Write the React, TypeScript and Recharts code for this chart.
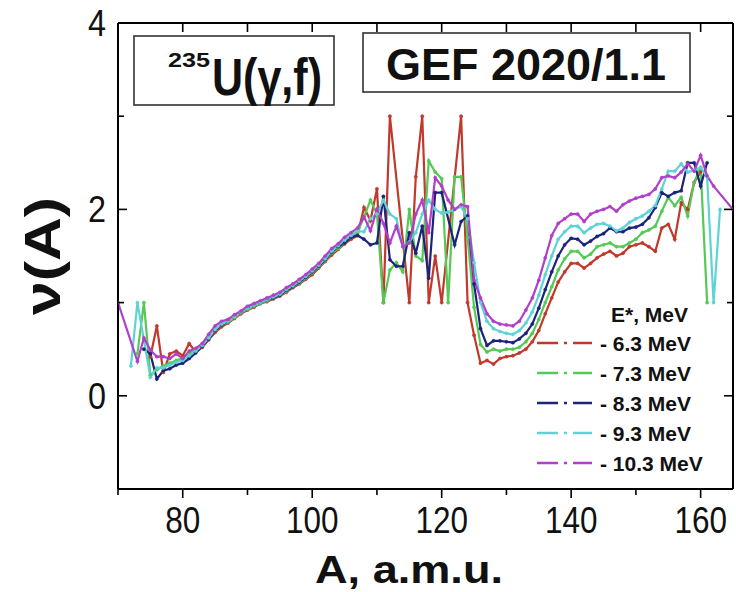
import React from 'react';
import { LineChart, Line, XAxis, YAxis } from 'recharts';

// Mass number A (a.m.u.)
const massNumbers = [
  70, 71, 72, 73, 74, 75, 76, 77, 78, 79,
  80, 81, 82, 83, 84, 85, 86, 87, 88, 89,
  90, 91, 92, 93, 94, 95, 96, 97, 98, 99,
  100, 101, 102, 103, 104, 105, 106, 107, 108, 109,
  110, 111, 112, 113, 114, 115, 116, 117, 118, 119,
  120, 121, 122, 123, 124, 125, 126, 127, 128, 129,
  130, 131, 132, 133, 134, 135, 136, 137, 138, 139,
  140, 141, 142, 143, 144, 145, 146, 147, 148, 149,
  150, 151, 152, 153, 154, 155, 156, 157, 158, 159,
  160, 161, 162, 163, 164, 165,
];

// nu(A) for E* = 6.3 MeV
const nu63 = [
  null, null, null, null, null, 0.42, 0.75, 0.25, 0.45, 0.48,
  0.43, 0.56, 0.47, 0.52, 0.6, 0.68, 0.74, 0.78, 0.83, 0.88,
  0.92, 0.95, 0.99, 1.01, 1.04, 1.07, 1.11, 1.16, 1.2, 1.25,
  1.3, 1.37, 1.44, 1.51, 1.57, 1.63, 1.68, 1.72, 2.02, 1.88,
  2.22, 1.0, 3.0, null, null, 1.0, 2.35, 3.0, 1.0, 1.5,
  1.0, null, null, 3.0, 1.0, 0.65, 0.35, 0.38, 0.34, 0.4,
  0.42, 0.43, 0.46, 0.5, 0.58, 0.7, 0.88, 1.05, 1.22, 1.33,
  1.42, 1.42, 1.37, 1.42, 1.48, 1.52, 1.55, 1.5, 1.53, 1.6,
  1.62, 1.64, 1.6, 1.55, 1.8, 1.84, 1.68, 2.07, 2.0, 2.29,
  2.4, null, null, null, null, null,
];

// nu(A) for E* = 7.3 MeV
const nu73 = [
  null, null, null, 0.45, 1.0, 0.22, 0.28, 0.32, 0.35, 0.38,
  0.4, 0.45, 0.5, 0.54, 0.62, 0.7, 0.76, 0.79, 0.84, 0.89,
  0.93, 0.96, 0.99, 1.02, 1.05, 1.08, 1.12, 1.17, 1.21, 1.26,
  1.32, 1.38, 1.45, 1.53, 1.58, 1.64, 1.7, 1.75, 1.92, 2.1,
  1.95, 1.0, 1.35, 1.43, 1.33, 2.0, 1.5, 1.45, 2.52, 2.4,
  2.33, 1.0, 2.35, 2.35, 1.7, 0.95, 0.55, 0.47, 0.5, 0.48,
  0.5, 0.5, 0.52, 0.58, 0.67, 0.82, 1.0, 1.17, 1.35, 1.47,
  1.55, 1.55, 1.48, 1.52, 1.6, 1.62, 1.64, 1.6, 1.6, 1.64,
  1.68, 1.75, 1.78, 1.82, 1.98, 2.13, 2.04, 2.13, 1.93, 2.29,
  2.45, 1.0, null, null, null, null,
];

// nu(A) for E* = 8.3 MeV
const nu83 = [
  null, null, null, null, 0.5, 0.45, 0.18, 0.27, 0.29, 0.33,
  0.35, 0.4, 0.46, 0.53, 0.61, 0.7, 0.76, 0.8, 0.86, 0.9,
  0.95, 0.97, 1.0, 1.03, 1.05, 1.08, 1.13, 1.17, 1.22, 1.27,
  1.33, 1.39, 1.46, 1.54, 1.6, 1.64, 1.7, 1.72, 1.68, 1.62,
  1.64, 2.14, 1.46, 1.39, 1.39, 1.75, 1.53, 1.82, 1.26, 2.18,
  2.18, null, 1.62, 1.87, 1.93, 1.2, 0.72, 0.54, 0.59, 0.59,
  0.58, 0.57, 0.61, 0.67, 0.77, 0.94, 1.14, 1.33, 1.5, 1.62,
  1.69, 1.68, 1.62, 1.66, 1.71, 1.74, 1.8, 1.76, 1.76, 1.8,
  1.81, 1.84, 1.91, 2.02, 2.18, 2.14, 2.18, 2.2, 2.5, 2.5,
  2.25, 2.5, null, null, null, null,
];

// nu(A) for E* = 9.3 MeV
const nu93 = [
  null, null, 0.32, 1.0, null, 0.2, 0.3, 0.3, 0.33, 0.36,
  0.38, 0.43, 0.48, 0.54, 0.62, 0.71, 0.77, 0.8, 0.85, 0.9,
  0.94, 0.97, 1.0, 1.03, 1.06, 1.09, 1.14, 1.18, 1.23, 1.28,
  1.34, 1.4, 1.47, 1.55, 1.61, 1.67, 1.72, 1.77, 1.76, 1.9,
  1.95, 2.1, 1.95, 1.9, 1.6, 1.65, 1.75, 1.95, 2.1, 2.0,
  1.96, 1.97, 2.0, 2.03, 1.9, 1.43, 1.0, 0.8, 0.72, 0.69,
  0.67, 0.66, 0.7, 0.78, 0.9, 1.08, 1.3, 1.5, 1.68, 1.76,
  1.82, 1.82, 1.75, 1.8, 1.84, 1.85, 1.82, 1.77, 1.8, 1.86,
  1.9, 1.93, 1.98, 2.04, 2.22, 2.41, 2.41, 2.49, 2.4, 2.42,
  2.45, 2.35, 1.0, 2.0, null, null,
];

// nu(A) for E* = 10.3 MeV
const nu103 = [
  1.0, null, null, 0.37, 0.62, 0.49, 0.42, 0.42, 0.4, 0.45,
  0.4, 0.48, 0.51, 0.56, 0.66, 0.75, 0.8, 0.82, 0.87, 0.91,
  0.96, 0.99, 1.02, 1.05, 1.08, 1.11, 1.16, 1.2, 1.25, 1.3,
  1.36, 1.42, 1.5, 1.58, 1.63, 1.7, 1.75, 1.8, 1.92, 1.77,
  2.0, 1.85, 1.64, 1.82, 1.6, 1.64, 1.95, 2.1, 1.75, 2.34,
  2.25, 2.1, 2.0, 2.05, 2.03, 1.24, 1.05, 0.88, 0.8, 0.77,
  0.76, 0.75, 0.8, 0.92, 1.05, 1.24, 1.48, 1.72, 1.85, 1.9,
  1.95, 1.95, 1.87, 1.95, 1.98, 2.0, 2.03, 1.98, 2.05, 2.09,
  2.12, 2.14, 2.16, 2.22, 2.34, 2.36, 2.34, 2.4, 2.49, 2.41,
  2.58, 2.36, 2.25, null, null, 2.0,
];

const seriesKeys = ['e63', 'e73', 'e83', 'e93', 'e103'];
const seriesValues = [nu63, nu73, nu83, nu93, nu103];
const seriesNames = ['- 6.3 MeV', '- 7.3 MeV', '- 8.3 MeV', '- 9.3 MeV', '- 10.3 MeV'];
const seriesColors = ['#c0392b', '#55c955', '#1c237a', '#5ed3d6', '#b03fc9'];

const xTicks = [70, 80, 90, 100, 110, 120, 130, 140, 150, 160];
const xLabelTicks = [80, 100, 120, 140, 160];
const yTicks = [-1, 0, 1, 2, 3, 4];
const yLabelTicks = [0, 2, 4];

const rows = massNumbers.map((a, i) => {
  const row: Record<string, number | null> = { a };
  seriesKeys.forEach((k, j) => {
    row[k] = seriesValues[j][i];
  });
  return row;
});

const FONT = "'Liberation Sans', Arial, sans-serif";

const BottomTick = (props: any) => {
  const { x, y, payload } = props;
  const major = xLabelTicks.includes(payload.value);
  const label = String(payload.value);
  return (
    <g>
      <line x1={x} x2={x} y1={y} y2={y + (major ? 9 : 6)} stroke="#000" strokeWidth={1.6} />
      {major && (
        <text
          x={x}
          y={y + 44}
          textAnchor="middle"
          fontSize={37}
          fontFamily={FONT}
          fill="#111"
          textLength={label.length * 17.5}
          lengthAdjust="spacingAndGlyphs"
        >
          {label}
        </text>
      )}
    </g>
  );
};

const TopTick = (props: any) => {
  const { x, y } = props;
  return <line x1={x} x2={x} y1={y} y2={y + 9} stroke="#000" strokeWidth={1.6} />;
};

const LeftTick = (props: any) => {
  const { x, y, payload } = props;
  const major = yLabelTicks.includes(payload.value);
  const label = String(payload.value);
  return (
    <g>
      <line x1={x} x2={x + (major ? 9 : 6)} y1={y} y2={y} stroke="#000" strokeWidth={1.6} />
      {major && (
        <text
          x={x - 12}
          y={y + 13}
          textAnchor="end"
          fontSize={37}
          fontFamily={FONT}
          fill="#111"
          textLength={label.length * 18}
          lengthAdjust="spacingAndGlyphs"
        >
          {label}
        </text>
      )}
    </g>
  );
};

const RightTick = (props: any) => {
  const { x, y, payload } = props;
  const major = yLabelTicks.includes(payload.value);
  return <line x1={x} x2={x - (major ? 9 : 6)} y1={y} y2={y} stroke="#000" strokeWidth={1.6} />;
};

const Overlay = () => (
  <svg
    width={736}
    height={592}
    style={{ position: 'absolute', left: 0, top: 0, pointerEvents: 'none' }}
  >
    {/* reaction box */}
    <rect x={134} y={36} width={200} height={69} fill="#fff" stroke="#333" strokeWidth={1.6} />
    <text x={168} y={67} fontSize={21} fontWeight="bold" fontFamily={FONT} fill="#111" textLength={42} lengthAdjust="spacingAndGlyphs">
      235
    </text>
    <text x={212} y={95} fontSize={52} fontWeight="bold" fontFamily={FONT} fill="#111" textLength={110} lengthAdjust="spacingAndGlyphs">
      U(γ,f)
    </text>
    {/* code box */}
    <rect x={363} y={33} width={327} height={59} fill="#fff" stroke="#333" strokeWidth={1.6} />
    <text x={526} y={80} textAnchor="middle" fontSize={45} fontWeight="bold" fontFamily={FONT} fill="#111">
      GEF 2020/1.1
    </text>
    {/* legend */}
    <text x={611} y={322} fontSize={21} fontWeight="bold" fontFamily={FONT} fill="#111">
      E*, MeV
    </text>
    {seriesNames.map((name, i) => {
      const cy = 343 + i * 30;
      return (
        <g key={name}>
          <line
            x1={537}
            x2={592}
            y1={cy}
            y2={cy}
            stroke={seriesColors[i]}
            strokeWidth={2.5}
            strokeDasharray="21 6 3 6 21"
          />
          <text x={600} y={cy + 8} fontSize={21} fontWeight="bold" fontFamily={FONT} fill="#111">
            {name}
          </text>
        </g>
      );
    })}
    {/* axis titles */}
    <text
      x={0}
      y={0}
      transform="translate(60, 256) rotate(-90)"
      textAnchor="middle"
      fontSize={50}
      fontWeight="bold"
      fontFamily={FONT}
      fill="#111"
      textLength={118}
      lengthAdjust="spacingAndGlyphs"
    >
      ν(A)
    </text>
    <text
      x={315}
      y={583}
      fontSize={39}
      fontWeight="bold"
      fontFamily={FONT}
      fill="#111"
      textLength={188}
      lengthAdjust="spacingAndGlyphs"
    >
      A, a.m.u.
    </text>
  </svg>
);

export default function App() {
  return (
    <div style={{ position: 'absolute', left: 0, top: 0, width: 736, height: 592, background: '#fff' }}>
      <LineChart width={736} height={592} data={rows} margin={{ top: 22, right: 2, bottom: 0, left: 0 }}>
        <XAxis
          dataKey="a"
          type="number"
          domain={[70, 165]}
          ticks={xTicks}
          interval={0}
          height={103}
          tickSize={0}
          tickMargin={0}
          tickLine={false}
          tick={<BottomTick />}
          axisLine={{ stroke: '#000', strokeWidth: 2 }}
          allowDataOverflow
        />
        <XAxis
          xAxisId="top"
          orientation="top"
          dataKey="a"
          type="number"
          domain={[70, 165]}
          ticks={xTicks}
          interval={0}
          height={1}
          tickSize={0}
          tickMargin={0}
          tickLine={false}
          tick={<TopTick />}
          axisLine={{ stroke: '#000', strokeWidth: 2 }}
          allowDataOverflow
        />
        <YAxis
          type="number"
          domain={[-1, 4]}
          ticks={yTicks}
          interval={0}
          width={118}
          tickSize={0}
          tickMargin={0}
          tickLine={false}
          tick={<LeftTick />}
          axisLine={{ stroke: '#000', strokeWidth: 2 }}
          allowDataOverflow
        />
        <YAxis
          yAxisId="right"
          orientation="right"
          type="number"
          domain={[-1, 4]}
          ticks={yTicks}
          interval={0}
          width={1}
          tickSize={0}
          tickMargin={0}
          tickLine={false}
          tick={<RightTick />}
          axisLine={{ stroke: '#000', strokeWidth: 2 }}
          allowDataOverflow
        />
        {seriesKeys.map((k, i) => (
          <Line
            key={k}
            dataKey={k}
            name={seriesNames[i]}
            stroke={seriesColors[i]}
            strokeWidth={2.2}
            dot={{ r: 1.6, fill: seriesColors[i], stroke: seriesColors[i], strokeWidth: 0.5 }}
            connectNulls
            isAnimationActive={false}
            type="linear"
          />
        ))}
      </LineChart>
      <Overlay />
    </div>
  );
}
